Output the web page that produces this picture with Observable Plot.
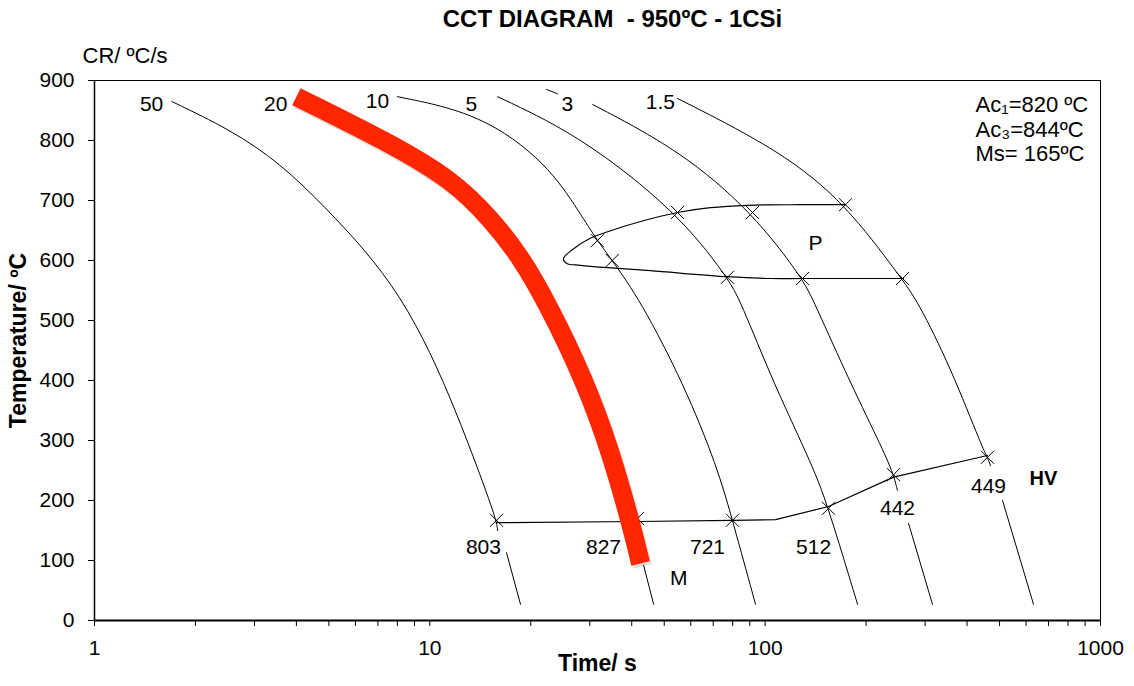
<!DOCTYPE html>
<html>
<head>
<meta charset="utf-8">
<script src="https://cdn.jsdelivr.net/npm/d3@7"></script>
<script src="https://cdn.jsdelivr.net/npm/@observablehq/plot@0.6"></script>
<style>
  html, body { margin: 0; padding: 0; background: #fff; }
  #chart svg { display: block; }
</style>
</head>
<body>
<div id="chart"></div>
<script>
// ---- Cooling curves (time s, temperature °C) ----
const curve50a = [[1.70,865],[2.544,818],[3.587,762],[4.886,688],[6.43,617],[8.175,540],[10.05,447],[11.93,350],[13.87,255],[15.81,167],[15.92,150]];
const curve50b = [[16.93,113],[18.64,27]];
const curve20b = [[43.4,92],[46.5,27]];
const curve10  = [[8.01,873],[14.16,845],[22.4,762],[28.1,678],[31.6,633],[35.0,600],[42.5,533],[57.1,395],[72.1,255],[79.9,167],[93.6,27]];
const curve5   = [[15.92,873],[28.1,808],[54.8,680],[77.2,572],[84.4,533],[105.9,395],[139.4,255],[154.5,187],[188.6,27]];
const curve3a  = [[30.6,860],[55.9,783],[91.7,680],[129.3,570],[139.4,533],[179.7,395],[225.4,283],[241.4,243],[248,217]];
const curve3b  = [[267.6,162],[315.5,27]];
const curve15a = [[54.8,870],[111.1,783],[173.6,695],[253.2,572],[284.7,533],[357,422],[447.9,283],[460.3,272],[470,258]];
const curve15b = [[510.4,200],[631.3,27]];
const strayDash = [[22.3,885],[24.0,878]];

// highlighted (red) cooling curve, CR = 20 °C/s
const redCurve = [[4.00,873],[7.48,798],[11.77,733],[15.16,670],[18.64,607],[22.59,525],[28.7,405],[34.6,283],[40.5,145],[42.5,95]];

// ---- Pearlite field boundary ----
const pearliteUpper = [[173.6,693],[127.5,693],[88.6,692],[68.7,688],[54.8,680],[42.5,665],[33.9,648],[30.1,637],[26.6,618],[25.03,603]];
const pearliteLower = [[25.6,595],[28.1,592],[33.9,588],[45.5,583],[77.2,573],[103.7,570],[130.2,570],[258.5,570]];
const pCrossTime = [31.6,35.0,54.8,91.7,173.6,77.2,129.3,256.8];
const pCrossTemp = [633,600,680,680,693,572,570,570];

// ---- Hardness (HV) line ----
const hvLine = [[15.81,163],[41.6,165],[79.9,167],[107.4,168],[154.5,190],[241.4,239],[460.3,275]];
const hvCrossTime = [15.81,41.6,79.9,154.5,241.4,460.3];
const hvCrossTemp = [167,170,167,187,243,272];
const hvValues    = ["803","827","721","512","442","449"];
const hvLabelTime = [14.45,32.96,67.3,139.4,248.1,463.5];
const hvLabelTemp = [122,122,122,122,187,223];

// ---- Cooling-rate labels ----
const crLabels    = ["50","20","10","5","3","1.5"];
const crLabelTime = [1.48,3.47,6.98,13.3,25.7,48.7];
const crLabelTemp = [860,860,865,860,860,863];

// ---- Other texts ----
const notes     = ["Ac\u2081=820 \u00baC","Ac\u2083=844\u00baC","Ms= 165\u00baC"];
const noteTime  = [424,424,424];
const noteTemp  = [860,818,777];

const yTicks = [0,100,200,300,400,500,600,700,800,900];
const xMajor = [1,10,100,1000];
const xMinor = [2,3,4,5,6,7,8,9,20,30,40,50,60,70,80,90,200,300,400,500,600,700,800,900];

// ---- build tables ----
const segments = {curve50a, curve50b, curve20b, curve10, curve5, curve3a, curve3b, curve15a, curve15b, strayDash};
const curveRows = Object.entries(segments).flatMap(([k, pts]) => pts.map(([t, T]) => ({seg: k, t, T})));
const redRows = redCurve.map(([t, T]) => ({t, T}));
const pRows = [...pearliteUpper, ...pearliteLower].map(([t, T]) => ({t, T}));
const hvRows = hvLine.map(([t, T]) => ({t, T}));
const crosses = [
  ...pCrossTime.map((t, i) => ({t, T: pCrossTemp[i]})),
  ...hvCrossTime.map((t, i) => ({t, T: hvCrossTemp[i]}))
];
const hvLab = hvValues.map((v, i) => ({v, t: hvLabelTime[i], T: hvLabelTemp[i]}));
const crLab = crLabels.map((v, i) => ({v, t: crLabelTime[i], T: crLabelTemp[i]}));
const noteRows = notes.map((v, i) => ({v, t: noteTime[i], T: noteTemp[i]}));

const FONT = "'Liberation Sans', Arial, Helvetica, sans-serif";

const chart = Plot.plot({
  width: 1134,
  height: 686,
  marginTop: 80,
  marginLeft: 94,
  marginRight: 34,
  marginBottom: 66,
  style: {fontFamily: FONT, fontSize: "21px", color: "black", background: "white"},
  x: {type: "log", domain: [1, 1000]},
  y: {domain: [0, 900]},
  marks: [
    Plot.frame({stroke: "black", strokeWidth: 1}),
    Plot.ruleX([1], {stroke: "black", strokeWidth: 1.5}),
    Plot.ruleY([0], {stroke: "black", strokeWidth: 2}),
    Plot.axisY(yTicks, {tickSize: 6, tickPadding: 14, label: null, fontSize: 21}),
    Plot.axisX(xMinor, {tickSize: 6, tickFormat: () => "", label: null}),
    Plot.axisX(xMajor, {tickSize: 6, tickPadding: 14, tickFormat: d => String(d), label: null, fontSize: 21}),
    // cooling curves
    Plot.line(curveRows, {x: "t", y: "T", z: "seg", stroke: "black", strokeWidth: 1, curve: "basis"}),
    // pearlite boundary
    Plot.line(pRows, {x: "t", y: "T", stroke: "black", strokeWidth: 1.2, curve: "catmull-rom"}),
    // HV line
    Plot.line(hvRows, {x: "t", y: "T", stroke: "black", strokeWidth: 1.2}),
    Plot.dot(crosses, {x: "t", y: "T", symbol: "times", r: 6, stroke: "black", strokeWidth: 1}),
    // labels
    Plot.text(crLab, {x: "t", y: "T", text: "v", fontSize: 21}),
    Plot.text(hvLab, {x: "t", y: "T", text: "v", fontSize: 21}),
    Plot.text(["M"], {x: [55.2], y: [70], text: d => d, fontSize: 21}),
    Plot.text(["P"], {x: [141.3], y: [628], text: d => d, fontSize: 21}),
    Plot.text(["HV"], {x: [676], y: [237], text: d => d, fontSize: 20, fontWeight: "bold"}),
    Plot.text(noteRows, {x: "t", y: "T", text: "v", textAnchor: "start", fontSize: 22}),
    // red highlighted curve with soft shadow
    Plot.line(redRows, {x: "t", y: "T", stroke: "#000", strokeOpacity: 0.12, strokeWidth: 19, dx: 2, dy: 3, curve: "basis", strokeLinecap: "butt"}),
    Plot.line(redRows, {x: "t", y: "T", stroke: "#ff2600", strokeWidth: 19, curve: "basis", strokeLinecap: "butt", strokeLinejoin: "round"}),
    // titles
    Plot.text(["CCT DIAGRAM  - 950\u00baC - 1CSi"], {frameAnchor: "top", dx: 15, dy: -71, text: d => d, fontSize: 24, fontWeight: "bold"}),
    Plot.text(["CR/ \u00baC/s"], {frameAnchor: "top-left", dx: -12, dy: -33, textAnchor: "start", text: d => d, fontSize: 22}),
    Plot.text(["Temperature/ \u00baC"], {frameAnchor: "left", dx: -76, dy: -10, textAnchor: "middle", rotate: -90, text: d => d, fontSize: 23, fontWeight: "bold"}),
    Plot.text(["Time/ s"], {frameAnchor: "bottom", dy: 50, text: d => d, fontSize: 23, fontWeight: "bold"})
  ]
});
document.getElementById("chart").appendChild(chart);
</script>
</body>
</html>
